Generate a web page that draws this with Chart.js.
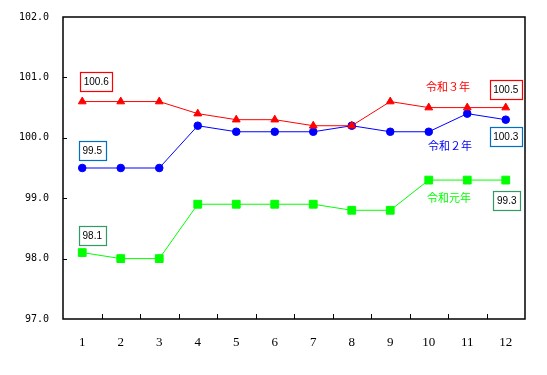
<!DOCTYPE html>
<html>
<head>
<meta charset="utf-8">
<script src="https://cdn.jsdelivr.net/npm/chart.js@4"></script>
<style>
    html, body { margin: 0; padding: 0; background: #fff; }
    #wrap { width: 547px; height: 375px; }
</style>
</head>
<body>
<div id="wrap"><canvas id="grafico" width="547" height="375"></canvas></div>
<script>
    const meses = ['1', '2', '3', '4', '5', '6', '7', '8', '9', '10', '11', '12'];
    const reiwa3 = [100.6, 100.6, 100.6, 100.4, 100.3, 100.3, 100.2, 100.2, 100.6, 100.5, 100.5, 100.5];
    const reiwa2 = [99.5, 99.5, 99.5, 100.2, 100.1, 100.1, 100.1, 100.2, 100.1, 100.1, 100.4, 100.3];
    const reiwaGannen = [98.1, 98.0, 98.0, 98.9, 98.9, 98.9, 98.9, 98.8, 98.8, 99.3, 99.3, 99.3];
    const nombresSerie = ['令和３年', '令和２年', '令和元年'];
    const ejeY = { min: 97, max: 102, paso: 1 };

    // etiquetas: [dataset, indice, dx, dy, ancho, colorBorde]
    const cajas = [
        [0, 0, 14, -20, 32, '#ff0000'],
        [0, 11, 0, -18, 32, '#ff0000'],
        [1, 0, 10, -18, 27, '#0070c0'],
        [1, 11, 0, 17, 32, '#0070c0'],
        [2, 0, 10, -17, 27, '#339966'],
        [2, 11, 1, 20, 27, '#339966'],
    ];
    // nombres de serie: [dataset, posicion x, indice del valor, dx, dy]
    const rotulos = [
        [0, 9.5, 9, 0, -21],
        [1, 9.5, 9, 2, 14],
        [2, 9.5, 10, 1, 18],
    ];

    const marcoPlugin = {
        id: 'marco',
        afterDraw(chart) {
            const { ctx, chartArea, scales } = chart;
            ctx.save();
            ctx.strokeStyle = '#000';
            ctx.lineWidth = 1.5;
            ctx.strokeRect(chartArea.left, chartArea.top, chartArea.right - chartArea.left, chartArea.bottom - chartArea.top);

            ctx.lineWidth = 1;
            ctx.beginPath();
            for (let v = ejeY.min + ejeY.paso; v < ejeY.max; v += ejeY.paso) {
                const y = Math.round(scales.y.getPixelForValue(v)) + 0.5;
                ctx.moveTo(chartArea.left, y);
                ctx.lineTo(chartArea.left + 4, y);
            }
            for (let i = 1; i < meses.length; i++) {
                const x = Math.round(scales.x.getPixelForValue(i - 0.5)) + 0.5;
                ctx.moveTo(x, chartArea.bottom);
                ctx.lineTo(x, chartArea.bottom - 5);
            }
            ctx.stroke();
            ctx.restore();
        },
    };

    const etiquetasPlugin = {
        id: 'etiquetas',
        afterDatasetsDraw(chart) {
            const { ctx, scales } = chart;
            ctx.save();
            ctx.textAlign = 'center';
            ctx.textBaseline = 'middle';

            cajas.forEach(([ds, idx, dx, dy, ancho, borde]) => {
                const valor = chart.data.datasets[ds].data[idx];
                const cx = scales.x.getPixelForValue(idx) + dx;
                const cy = scales.y.getPixelForValue(valor) + dy;
                ctx.fillStyle = '#fff';
                ctx.fillRect(cx - ancho / 2, cy - 9.5, ancho, 19);
                ctx.strokeStyle = borde;
                ctx.lineWidth = 1.2;
                ctx.strokeRect(Math.round(cx - ancho / 2) + 0.5, Math.round(cy - 9.5) + 0.5, ancho, 19);
                ctx.fillStyle = '#000';
                ctx.font = '10px "Liberation Sans", Arial, sans-serif';
                ctx.fillText(valor.toFixed(1), cx, cy + 1);
            });

            ctx.font = '11px "Noto Sans CJK JP", sans-serif';
            rotulos.forEach(([ds, pos, idxValor, dx, dy]) => {
                const conjunto = chart.data.datasets[ds];
                const valor = conjunto.data[idxValor];
                const x = scales.x.getPixelForValue(pos) + dx;
                const y = scales.y.getPixelForValue(valor) + dy;
                ctx.fillStyle = conjunto.borderColor;
                ctx.fillText(nombresSerie[ds], x, y);
            });
            ctx.restore();
        },
    };

    function serie(nombre, datos, color, estilo, radio) {
        return {
            label: nombre,
            data: datos,
            borderColor: color,
            backgroundColor: color,
            borderWidth: 1,
            pointStyle: estilo,
            pointRadius: radio,
            pointHoverRadius: radio,
            tension: 0,
        };
    }

    new Chart(document.getElementById('grafico'), {
        type: 'line',
        data: {
            labels: meses,
            datasets: [
                serie(nombresSerie[0], reiwa3, '#ff0000', 'triangle', 4.5),
                serie(nombresSerie[1], reiwa2, '#0000ff', 'circle', 3.8),
                serie(nombresSerie[2], reiwaGannen, '#00ff00', 'rect', 5.5),
            ],
        },
        options: {
            responsive: false,
            animation: false,
            layout: { padding: { top: 17, right: 22, left: 0, bottom: 0 } },
            plugins: {
                legend: { display: false },
                tooltip: { enabled: false },
            },
            scales: {
                x: {
                    offset: true,
                    grid: { display: false },
                    border: { display: false },
                    ticks: {
                        padding: 8,
                        color: '#000',
                        font: { family: '"Liberation Serif", serif', size: 13 },
                        maxRotation: 0,
                    },
                    afterFit(escala) { escala.height = 56; },
                },
                y: {
                    min: ejeY.min,
                    max: ejeY.max,
                    grid: { display: false },
                    border: { display: false },
                    ticks: {
                        stepSize: ejeY.paso,
                        padding: 6,
                        color: '#000',
                        font: { family: '"DejaVu Sans Mono", monospace', size: 10 },
                        callback: (v) => Number(v).toFixed(1),
                    },
                    afterFit(escala) { escala.width = 63; },
                },
            },
        },
        plugins: [marcoPlugin, etiquetasPlugin],
    });
</script>
</body>
</html>
